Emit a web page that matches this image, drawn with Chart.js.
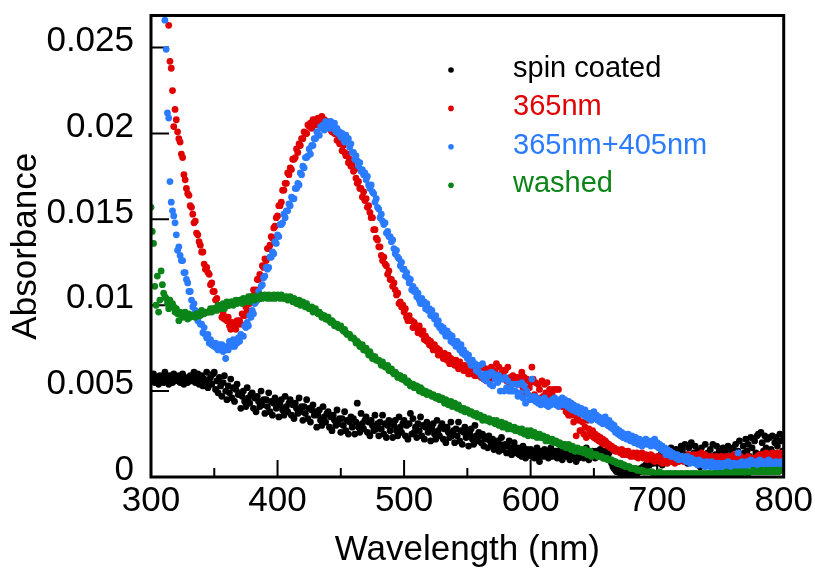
<!DOCTYPE html>
<html>
<head>
<meta charset="utf-8">
<title>Absorbance spectra</title>
<script src="https://cdn.jsdelivr.net/npm/chart.js@4/dist/chart.umd.min.js"></script>
<style>
  html, body { margin: 0; padding: 0; background: #fff; }
  #wrap { width: 815px; height: 568px; }
</style>
</head>
<body>
<div id="wrap"><canvas id="spectra" width="815" height="568"></canvas></div>
<script>
// Spectra sampled every 1 nm from 300 nm to 800 nm.
// Absorbance values are stored ×10^4; null marks readings above the plotted range.
const WL_START = 300;
const WL_STEP = 1;

const spinCoated = [
  59,56,60,55,57,58,54,59,56,58,
  55,61,56,58,54,59,57,55,60,56,
  58,56,59,55,57,60,54,58,57,55,
  57,59,56,58,61,55,58,60,54,57,
  59,53,57,55,61,52,56,58,54,60,
  61,51,56,49,58,53,47,55,59,50,
  45,53,49,57,46,52,44,51,54,48,
  49,40,47,50,44,41,52,46,43,48,
  49,40,46,38,47,44,41,50,42,45,
  37,45,41,49,38,44,36,43,46,40,
  44,35,42,45,39,36,47,41,38,43,
  45,36,42,34,43,40,37,46,38,41,
  33,41,37,45,34,40,32,39,42,36,
  38,29,36,39,33,30,41,35,32,37,
  38,29,35,27,36,33,30,39,31,34,
  26,34,30,38,27,33,25,32,35,29,
  34,25,32,43,29,26,37,31,28,33,
  35,26,32,24,33,30,27,36,28,31,
  24,32,28,36,25,31,23,30,33,27,
  32,23,30,33,27,24,35,29,26,31,
  33,24,30,22,31,37,25,34,26,29,
  23,31,27,35,24,30,22,29,32,26,
  30,21,28,31,25,22,33,27,24,29,
  31,22,28,20,29,26,23,32,24,27,
  20,28,24,32,21,27,19,26,29,23,
  27,18,25,28,22,19,30,24,21,26,
  24,20,25,18,22,23,17,24,21,19,
  22,16,20,17,21,15,19,23,16,18,
  19,14,18,21,15,13,17,20,16,14,
  17,13,16,12,18,14,11,16,15,13,
  16,12,15,11,14,17,12,9,15,13,
  12,16,13,15,11,14,17,12,15,13,
  15,11,14,12,16,10,13,15,12,14,
  14,10,13,11,15,12,9,13,11,14,
  12,15,11,14,17,13,10,14,12,15,
  14,11,15,12,13,16,12,14,11,15,
  13,11,14,10,8,6,5,4,3,4,
  3,2,4,1,3,2,1,3,2,1,
  1,2,1,3,2,4,3,5,4,6,
  5,7,6,8,7,9,10,8,11,10,
  8,12,9,13,7,10,14,11,15,9,
  13,17,10,14,12,16,9,15,11,18,
  16,10,19,13,8,17,12,20,11,14,
  18,9,15,12,6,17,13,8,19,11,
  14,7,16,11,19,9,13,18,10,15,
  8,14,17,11,15,9,18,12,16,10,
  17,12,19,10,15,21,13,8,18,14,
  22,15,19,12,23,17,10,21,14,24,
  25,13,26,20,15,24,17,22,11,23,
  16,24,14,20,23,18,10,25,21,15,
  22
];

const uv365 = [
  null,null,null,null,null,null,null,null,null,null,
  null,null,null,null,263,242,238,225,204,214,
  208,201,197,195,188,186,176,173,168,165,
  164,158,157,153,148,149,142,141,137,135,
  131,131,124,121,122,119,118,112,113,108,
  108,103,104,100,98,99,93,95,92,93,
  91,93,88,86,90,87,88,86,91,89,
  91,89,95,94,94,99,97,102,101,105,
  104,109,108,109,115,115,118,117,123,122,
  127,126,133,133,135,140,139,145,146,151,
  152,158,158,160,167,167,171,171,177,176,
  180,179,185,185,186,191,189,194,193,197,
  197,201,200,200,205,204,206,203,208,205,
  208,205,209,208,207,210,206,208,206,207,
  204,206,202,201,204,200,200,196,199,194,
  195,190,193,189,187,188,183,185,181,182,
  178,179,174,171,172,168,168,163,166,161,
  162,157,158,154,151,151,144,144,139,138,
  134,134,129,126,128,124,123,118,120,115,
  115,111,113,109,106,107,101,102,99,100,
  96,98,93,91,94,91,91,87,90,87,
  88,84,88,85,83,85,80,82,79,80,
  77,79,76,74,77,74,75,71,74,71,
  72,69,72,70,68,71,66,69,66,68,
  65,68,65,63,67,64,65,62,65,62,
  64,60,64,62,60,64,59,62,59,62,
  64,58,65,57,63,56,63,60,56,64,
  59,62,61,66,58,64,58,60,62,58,
  62,56,64,55,58,55,59,56,55,58,
  54,58,55,61,52,58,49,57,56,52,
  55,64,57,48,55,46,54,51,46,56,
  47,54,49,55,48,51,47,48,51,43,
  51,43,51,43,45,41,44,43,38,43,
  36,40,36,41,32,36,24,34,33,27,
  27,32,25,29,23,33,28,26,24,27,
  23,25,22,24,21,23,20,22,19,21,
  20,18,19,17,18,16,17,15,16,15,
  15,14,16,13,15,14,13,15,14,12,
  13,14,12,13,14,11,13,12,14,11,
  12,13,10,12,11,13,10,12,9,11,
  10,12,9,10,8,11,9,10,8,11,
  10,9,11,10,8,10,12,9,10,11,
  10,9,12,10,11,13,10,12,11,13,
  12,10,13,11,12,14,12,11,13,10,
  12,11,9,12,10,11,9,12,10,11,
  10,12,9,11,10,12,11,9,12,10,
  11,13,10,12,11,9,12,10,8,11,
  9,10,12,9,11,10,8,11,10,12,
  11,13,10,13,12,11,14,12,10,13,
  12,14,11,13,12,14,13,11,13,14,
  12
];

const uv365vis405 = [
  null,null,null,null,null,null,null,null,null,null,
  null,266,249,212,209,172,160,155,152,148,
  141,132,134,129,126,126,119,119,115,113,
  108,108,103,99,101,97,96,91,94,89,
  89,84,87,83,81,83,78,80,77,78,
  76,78,75,74,77,76,77,73,74,69,
  76,74,79,77,76,80,76,79,78,81,
  79,83,82,82,88,87,90,88,94,93,
  97,95,101,102,103,108,106,111,112,116,
  117,122,121,122,128,128,131,130,137,136,
  141,140,147,147,148,153,151,155,155,159,
  158,163,162,162,168,168,171,170,177,176,
  181,180,186,186,187,191,188,193,193,197,
  197,201,199,199,204,203,205,202,207,204,
  206,203,207,205,203,206,201,203,200,201,
  198,200,197,195,199,197,197,192,194,189,
  189,185,187,184,181,183,178,179,176,177,
  173,175,170,168,170,166,165,160,162,157,
  156,151,153,149,147,148,142,143,140,140,
  137,138,133,130,132,128,127,123,125,121,
  121,117,119,116,113,115,109,111,108,109,
  105,107,103,101,104,101,102,98,101,97,
  98,94,97,94,92,94,89,91,87,88,
  85,87,84,82,85,82,83,79,82,78,
  79,76,79,76,74,77,72,74,71,72,
  69,71,67,65,68,65,66,62,65,61,
  65,59,66,57,60,56,60,59,54,61,
  53,60,57,59,55,59,50,57,57,50,
  58,52,56,50,52,50,54,50,50,54,
  47,54,49,55,46,53,43,50,48,45,
  46,57,45,47,44,46,43,45,42,45,
  43,46,42,44,41,44,42,45,43,46,
  42,44,41,45,43,46,42,45,43,41,
  44,40,43,39,42,40,38,41,39,37,
  40,38,36,39,35,37,34,37,33,35,
  38,34,36,33,35,32,34,31,33,35,
  32,30,33,29,31,28,30,26,28,25,
  27,24,26,23,25,24,22,25,23,21,
  24,22,20,23,21,19,22,20,18,21,
  20,22,19,21,20,18,21,19,22,18,
  20,17,19,16,18,15,17,13,16,14,
  15,12,14,12,13,11,13,10,12,11,
  12,10,11,9,12,10,8,11,9,10,
  8,9,7,10,8,9,7,8,6,9,
  7,8,6,9,7,6,8,5,7,8,
  6,7,5,8,6,7,9,6,8,7,
  5,8,6,7,14,8,6,9,7,8,
  6,9,7,8,10,7,9,8,6,9,
  7,10,8,6,9,7,5,8,10,7,
  9,6,8,7,9,6,8,7,9,6,
  8
];

const washed = [
  157,143,136,111,100,117,96,103,120,112,
  107,105,104,101,98,103,100,101,99,96,
  98,95,91,96,95,93,94,96,93,92,
  95,93,94,94,94,93,95,95,94,94,
  97,95,95,96,96,96,96,98,96,98,
  98,98,97,100,98,98,99,101,98,100,
  102,100,100,102,102,100,101,103,101,102,
  103,103,101,104,103,102,103,105,102,104,
  105,104,103,105,104,104,104,106,104,105,
  106,105,104,106,105,104,105,106,104,105,
  106,105,104,106,105,104,104,105,103,104,
  105,103,102,104,103,101,102,103,100,101,
  102,100,99,101,99,98,98,99,96,97,
  98,96,95,96,95,93,94,94,92,92,
  93,91,90,91,90,88,89,89,87,87,
  88,86,85,86,84,83,83,83,81,81,
  81,80,78,79,78,76,76,77,74,74,
  75,73,71,73,71,69,70,70,68,68,
  68,67,65,67,65,64,64,65,62,62,
  63,61,60,61,60,58,59,59,57,57,
  58,56,55,56,55,53,54,54,52,53,
  53,52,50,52,51,49,50,50,48,49,
  49,48,47,48,47,46,46,47,45,45,
  46,45,43,45,44,42,43,44,41,42,
  43,41,40,42,40,39,40,40,38,39,
  39,38,37,38,37,36,36,37,35,35,
  36,35,33,35,34,33,33,34,32,33,
  33,32,31,33,31,30,31,32,29,30,
  31,30,28,30,29,28,28,29,27,28,
  28,27,26,28,26,25,26,27,24,25,
  27,25,24,26,25,23,24,25,23,23,
  24,23,21,23,22,21,21,22,20,20,
  21,20,19,20,19,18,19,19,17,18,
  19,17,16,18,17,15,16,17,15,15,
  16,15,14,16,14,13,14,15,12,13,
  13,13,13,12,12,12,12,11,11,11,
  11,10,10,10,10,9,9,9,8,8,
  8,8,7,7,7,6,6,6,6,5,
  5,5,5,5,4,4,4,4,4,3,
  3,3,3,3,3,3,3,2,2,2,
  2,2,3,2,2,2,1,2,2,2,
  2,2,1,2,2,2,2,1,2,2,
  2,1,2,2,2,2,1,2,2,2,
  2,2,1,2,2,2,2,2,1,2,
  2,2,2,1,2,2,2,2,2,2,
  2,2,2,2,2,3,2,2,2,2,
  2,3,2,3,2,3,3,2,3,3,
  3,3,2,3,3,3,4,3,3,3,
  3,3,4,3,3,3,4,3,3,4,
  3,4,3,3,4,4,3,4,4,4,
  4
];

const seriesNames = ['spin coated', '365nm', '365nm+405nm', 'washed'];
const seriesColors = ['#000000', '#e00000', '#2a7bff', '#0b8418'];

const xTickValues = [300, 400, 500, 600, 700, 800];
const xMinorTickValues = [350, 450, 550, 650, 750];
const yTickValues = [0, 0.005, 0.01, 0.015, 0.02, 0.025];
const yTickLabels = ['0', '0.005', '0.01', '0.015', '0.02', '0.025'];

const FONT = '"Liberation Sans", Arial, Helvetica, sans-serif';

function toPoints(values) {
  const pts = [];
  values.forEach((v, i) => {
    if (v !== null) pts.push({ x: WL_START + i * WL_STEP, y: v / 1e4 });
  });
  return pts;
}

const seriesValues = [spinCoated, uv365, uv365vis405, washed];
// later series sit on top: washed, then 365nm+405nm, then 365nm, then spin coated
const drawOrder = [3, 2, 1, 0];

const datasets = seriesValues.map((vals, i) => ({
  label: seriesNames[i],
  data: toPoints(vals),
  showLine: false,
  pointRadius: 3.4,
  pointHoverRadius: 3.4,
  pointBorderWidth: 0,
  pointBackgroundColor: seriesColors[i],
  borderColor: seriesColors[i],
  backgroundColor: seriesColors[i],
  order: drawOrder[i],
  clip: 1
}));

// Inward tick marks, plot frame and in-plot legend
const axesDecor = {
  id: 'axesDecor',
  beforeDatasetsDraw(chart) {
    const { ctx, chartArea: a, scales: { x, y } } = chart;
    ctx.save();
    ctx.strokeStyle = '#000';
    ctx.lineWidth = 2;
    ctx.beginPath();
    xTickValues.forEach(v => {
      const px = x.getPixelForValue(v);
      ctx.moveTo(px, a.bottom);
      ctx.lineTo(px, a.bottom - 17);
    });
    xMinorTickValues.forEach(v => {
      const px = x.getPixelForValue(v);
      ctx.moveTo(px, a.bottom);
      ctx.lineTo(px, a.bottom - 9);
    });
    yTickValues.forEach(v => {
      const py = y.getPixelForValue(v);
      ctx.moveTo(a.left, py);
      ctx.lineTo(a.left + 18, py);
    });
    ctx.stroke();
    ctx.restore();
  },
  afterDatasetsDraw(chart) {
    const { ctx, chartArea: a } = chart;
    ctx.save();
    ctx.strokeStyle = '#000';
    ctx.lineWidth = 3;
    ctx.strokeRect(a.left, a.top, a.right - a.left, a.bottom - a.top);
    ctx.restore();
  },
  afterDraw(chart) {
    const { ctx } = chart;
    ctx.save();
    ctx.font = '29px ' + FONT;
    ctx.textAlign = 'left';
    ctx.textBaseline = 'alphabetic';
    seriesNames.forEach((name, i) => {
      const rowY = 70 + i * 38.4;
      ctx.fillStyle = seriesColors[i];
      ctx.beginPath();
      ctx.arc(451, rowY, 2.8, 0, Math.PI * 2);
      ctx.fill();
      ctx.fillText(name, 513, rowY + 6.8);
    });
    ctx.restore();
  }
};

new Chart(document.getElementById('spectra'), {
  type: 'scatter',
  data: { datasets },
  options: {
    responsive: false,
    devicePixelRatio: 1,
    animation: false,
    events: [],
    layout: { padding: { left: 0, right: 31.3, top: 15.5, bottom: 0 } },
    plugins: {
      legend: { display: false },
      tooltip: { enabled: false }
    },
    scales: {
      x: {
        type: 'linear',
        min: 300,
        max: 800,
        grid: { display: false, drawTicks: false },
        border: { display: false },
        afterBuildTicks: s => { s.ticks = xTickValues.map(v => ({ value: v })); },
        ticks: {
          font: { family: FONT, size: 35 },
          color: '#000',
          padding: 3,
          maxRotation: 0,
          autoSkip: false,
          callback: v => String(v)
        },
        title: {
          display: true,
          text: 'Wavelength (nm)',
          color: '#000',
          font: { family: FONT, size: 35, lineHeight: 1 },
          padding: { top: 0, bottom: 0 }
        },
        afterFit: s => { s.height = 91; s.paddingLeft = 0; s.paddingRight = 0; }
      },
      y: {
        type: 'linear',
        min: 0,
        max: 0.02687,
        grid: { display: false, drawTicks: false },
        border: { display: false },
        afterBuildTicks: s => { s.ticks = yTickValues.map(v => ({ value: v })); },
        ticks: {
          font: { family: FONT, size: 35 },
          color: '#000',
          padding: 17,
          labelOffset: -6.5,
          autoSkip: false,
          callback: (v, i) => yTickLabels[i]
        },
        title: {
          display: true,
          text: 'Absorbance',
          color: '#000',
          font: { family: FONT, size: 35, lineHeight: 1 },
          padding: { top: 9, bottom: 0 }
        },
        afterFit: s => { s.width = 151; s.paddingTop = 0; s.paddingBottom = 0; }
      }
    }
  },
  plugins: [axesDecor]
});
</script>
</body>
</html>
